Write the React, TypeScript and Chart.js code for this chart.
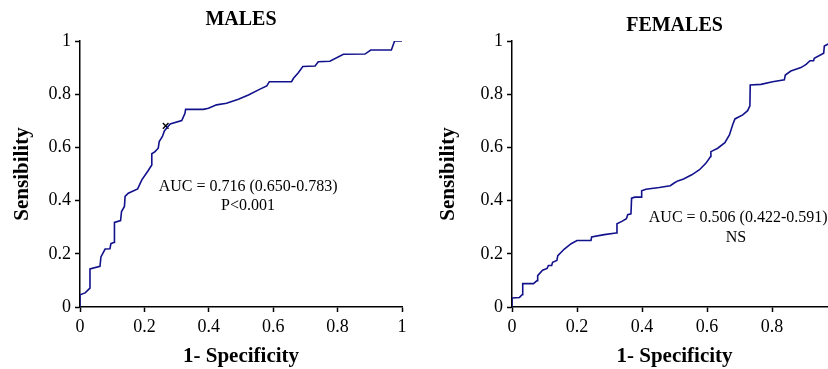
import React, { useEffect, useRef } from "react";
import { Chart, registerables } from "chart.js";

Chart.register(...registerables);

// ---- Data ----
const axisTickValues = [0, 0.2, 0.4, 0.6, 0.8, 1];
const axisTickLabels = ["0", "0.2", "0.4", "0.6", "0.8", "1"];

const malesX = [0, 0, 0.016, 0.031, 0.031, 0.062, 0.065, 0.078, 0.093, 0.096, 0.106, 0.107, 0.126, 0.129, 0.138, 0.14, 0.15, 0.179, 0.192, 0.212, 0.223, 0.223, 0.233, 0.243, 0.246, 0.256, 0.262, 0.28, 0.316, 0.326, 0.328, 0.383, 0.399, 0.424, 0.455, 0.492, 0.523, 0.559, 0.58, 0.588, 0.657, 0.663, 0.678, 0.692, 0.73, 0.74, 0.776, 0.818, 0.885, 0.903, 0.967, 0.977, 1.0];
const malesY = [0, 0.046, 0.053, 0.071, 0.143, 0.153, 0.188, 0.218, 0.219, 0.238, 0.243, 0.318, 0.325, 0.359, 0.378, 0.416, 0.428, 0.444, 0.478, 0.513, 0.534, 0.576, 0.584, 0.597, 0.622, 0.641, 0.662, 0.688, 0.701, 0.728, 0.743, 0.743, 0.747, 0.76, 0.766, 0.781, 0.797, 0.819, 0.831, 0.847, 0.847, 0.86, 0.881, 0.904, 0.906, 0.922, 0.924, 0.95, 0.951, 0.966, 0.966, 1.0, 1.0];
const malesCutoffX = [0.266];
const malesCutoffY = [0.681];

const femalesX = [0, 0, 0.023, 0.031, 0.033, 0.066, 0.077, 0.079, 0.094, 0.108, 0.112, 0.122, 0.125, 0.138, 0.141, 0.161, 0.182, 0.2, 0.243, 0.245, 0.284, 0.32, 0.323, 0.338, 0.352, 0.356, 0.366, 0.368, 0.378, 0.397, 0.399, 0.412, 0.453, 0.487, 0.499, 0.51, 0.528, 0.553, 0.577, 0.597, 0.611, 0.612, 0.633, 0.655, 0.669, 0.679, 0.686, 0.71, 0.725, 0.732, 0.733, 0.766, 0.802, 0.838, 0.841, 0.858, 0.889, 0.905, 0.917, 0.928, 0.93, 0.959, 0.961, 0.973];
const femalesY = [0, 0.034, 0.036, 0.046, 0.088, 0.088, 0.099, 0.118, 0.138, 0.145, 0.156, 0.156, 0.168, 0.175, 0.193, 0.218, 0.238, 0.25, 0.25, 0.263, 0.272, 0.278, 0.313, 0.322, 0.332, 0.347, 0.35, 0.409, 0.413, 0.413, 0.437, 0.443, 0.449, 0.456, 0.466, 0.474, 0.481, 0.497, 0.516, 0.541, 0.566, 0.584, 0.597, 0.618, 0.647, 0.685, 0.707, 0.722, 0.738, 0.756, 0.835, 0.837, 0.847, 0.854, 0.872, 0.887, 0.9, 0.912, 0.926, 0.926, 0.935, 0.954, 0.981, 0.989];

const malesTitle = "MALES";
const femalesTitle = "FEMALES";
const yAxisTitle = "Sensibility";
const xAxisTitle = "1- Specificity";
const malesNotes = ["AUC = 0.716 (0.650-0.783)", "P<0.001"];
const femalesNotes = ["AUC = 0.506 (0.422-0.591)", "NS"];

const SERIF = '"Liberation Serif", "Times New Roman", Times, serif';
const LINE_COLOR = "#12128c";

type Layout = {
  title: string;
  titleY: number;
  yTitleX: number;
  xTitleY: number;
  notes: string[];
  notePos: { x: number; y: number }[]; // in data coordinates
  yWidth: number;
};

const textPlugin = {
  id: "textPlugin",
  afterDraw(chart: any) {
    const L: Layout = chart.options.plugins.textPlugin;
    if (!L) return;
    const { ctx, chartArea, scales } = chart;
    const cx = (chartArea.left + chartArea.right) / 2;
    const cy = (chartArea.top + chartArea.bottom) / 2;
    ctx.save();
    ctx.fillStyle = "#000";
    ctx.textAlign = "center";
    ctx.textBaseline = "middle";
    ctx.font = `bold 20px ${SERIF}`;
    ctx.fillText(L.title, cx, L.titleY);
    ctx.font = `bold 21px ${SERIF}`;
    ctx.fillText(xAxisTitle, cx, L.xTitleY);
    ctx.save();
    ctx.translate(L.yTitleX, cy);
    ctx.rotate(-Math.PI / 2);
    ctx.fillText(yAxisTitle, 0, 0);
    ctx.restore();
    ctx.font = `16px ${SERIF}`;
    L.notes.forEach((t, i) => {
      const p = L.notePos[i];
      ctx.fillText(t, scales.x.getPixelForValue(p.x), scales.y.getPixelForValue(p.y));
    });
    ctx.restore();
  },
};

function makeScale(yWidth: number | null, xHeight: number | null) {
  return {
    type: "linear",
    min: 0,
    max: 1,
    afterBuildTicks(scale: any) {
      scale.ticks = axisTickValues.map((v) => ({ value: v }));
    },
    afterFit(scale: any) {
      if (yWidth !== null) scale.width = yWidth;
      if (xHeight !== null) scale.height = xHeight;
    },
    ticks: {
      color: "#000",
      font: { family: SERIF, size: 18 },
      padding: 4,
      maxRotation: 0,
      autoSkip: false,
      callback: (v: number) => {
        const i = axisTickValues.findIndex((t) => Math.abs(t - v) < 1e-6);
        return i >= 0 ? axisTickLabels[i] : "";
      },
    },
    grid: {
      display: true,
      drawOnChartArea: false,
      drawTicks: true,
      tickLength: 5,
      color: "#000",
      tickWidth: 1.5,
    },
    border: { display: true, color: "#000", width: 1.5 },
  };
}

function buildConfig(
  xs: number[],
  ys: number[],
  markX: number[],
  markY: number[],
  layout: Layout,
  paddingRight: number
): any {
  const datasets: any[] = [
    {
      data: xs.map((x, i) => ({ x, y: ys[i] })),
      showLine: true,
      borderColor: LINE_COLOR,
      borderWidth: 1.6,
      pointRadius: 0,
      tension: 0,
    },
  ];
  if (markX.length) {
    datasets.push({
      data: markX.map((x, i) => ({ x, y: markY[i] })),
      showLine: false,
      pointStyle: "crossRot",
      pointRadius: 4,
      borderColor: "#000",
      borderWidth: 1.4,
      backgroundColor: "#000",
    });
  }
  return {
    type: "scatter",
    data: { datasets },
    options: {
      responsive: false,
      animation: false,
      devicePixelRatio: 1,
      layout: { padding: { left: 0, right: paddingRight, top: 41, bottom: 0 } },
      scales: {
        x: { ...makeScale(null, 62), position: "bottom" },
        y: { ...makeScale(layout.yWidth, null), position: "left" },
      },
      plugins: {
        legend: { display: false },
        tooltip: { enabled: false },
        title: { display: false },
        textPlugin: layout,
      },
    },
    plugins: [textPlugin],
  };
}

function ChartCanvas(props: { config: () => any; width: number; height: number; left: number }) {
  const ref = useRef<HTMLCanvasElement | null>(null);
  useEffect(() => {
    if (!ref.current) return;
    const chart = new Chart(ref.current, props.config());
    return () => chart.destroy();
  }, []);
  return (
    <canvas
      ref={ref}
      width={props.width}
      height={props.height}
      style={{ position: "absolute", left: props.left, top: 0, width: props.width, height: props.height }}
    />
  );
}

export default function App() {
  const malesLayout: Layout = {
    title: malesTitle,
    titleY: 20,
    yTitleX: 23,
    xTitleY: 357,
    notes: malesNotes,
    notePos: [
      { x: 0.522, y: 0.452 },
      { x: 0.522, y: 0.38 },
    ],
    yWidth: 80,
  };
  const femalesLayout: Layout = {
    title: femalesTitle,
    titleY: 26,
    yTitleX: 35,
    xTitleY: 357,
    notes: femalesNotes,
    notePos: [
      { x: 0.696, y: 0.335 },
      { x: 0.689, y: 0.26 },
    ],
    yWidth: 98,
  };
  return (
    <div
      style={{
        position: "fixed",
        left: 0,
        top: 0,
        width: 828,
        height: 369,
        overflow: "hidden",
        background: "#fff",
      }}
    >
      <ChartCanvas
        left={0}
        width={414}
        height={369}
        config={() => buildConfig(malesX, malesY, malesCutoffX, malesCutoffY, malesLayout, 12)}
      />
      <ChartCanvas
        left={414}
        width={435}
        height={369}
        config={() => buildConfig(femalesX, femalesY, [], [], femalesLayout, 12)}
      />
    </div>
  );
}
